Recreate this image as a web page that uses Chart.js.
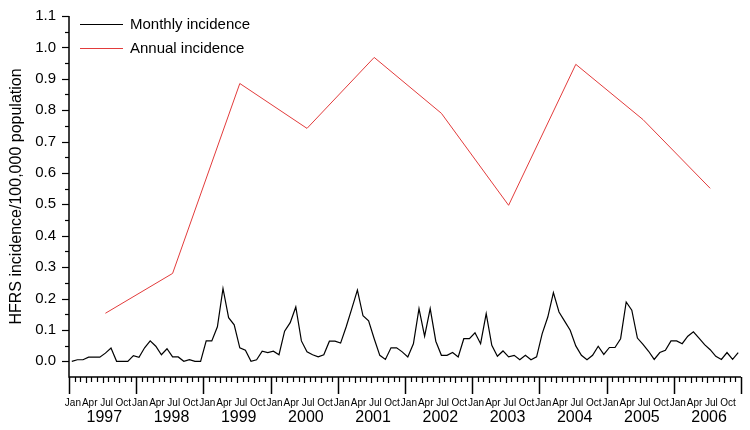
<!DOCTYPE html>
<html>
<head>
<meta charset="utf-8">
<script src="https://cdn.jsdelivr.net/npm/chart.js@4/dist/chart.umd.min.js"></script>
<style>
  html, body { margin: 0; padding: 0; background: #fff; }
  #wrap { width: 750px; height: 430px; position: relative; }
</style>
</head>
<body>
<div id="wrap"><canvas id="c" width="750" height="430"></canvas></div>
<script>
// ---- data ----
const years = ['1997','1998','1999','2000','2001','2002','2003','2004','2005','2006'];
const monthTickLabels = ['Jan','Apr','Jul','Oct'];
const yTickLabels = ['0.0','0.1','0.2','0.3','0.4','0.5','0.6','0.7','0.8','0.9','1.0','1.1'];
const monthly1997 = [0.0, 0.005, 0.005, 0.013, 0.013, 0.013, 0.026, 0.042, 0.0, 0.0, 0.0, 0.018];
const monthly1998 = [0.013, 0.043, 0.065, 0.048, 0.021, 0.040, 0.014, 0.014, 0.0, 0.005, 0.0, 0.0];
const monthly1999 = [0.065, 0.065, 0.110, 0.232, 0.139, 0.116, 0.043, 0.035, 0.0, 0.005, 0.032, 0.028];
const monthly2000 = [0.032, 0.021, 0.096, 0.123, 0.173, 0.065, 0.030, 0.021, 0.014, 0.021, 0.064, 0.064];
const monthly2001 = [0.058, 0.110, 0.168, 0.227, 0.145, 0.129, 0.072, 0.019, 0.006, 0.043, 0.043, 0.030];
const monthly2002 = [0.014, 0.056, 0.168, 0.080, 0.168, 0.064, 0.019, 0.019, 0.028, 0.014, 0.072, 0.072];
const monthly2003 = [0.091, 0.056, 0.152, 0.051, 0.016, 0.033, 0.014, 0.019, 0.005, 0.019, 0.005, 0.014];
const monthly2004 = [0.088, 0.141, 0.219, 0.157, 0.128, 0.099, 0.049, 0.019, 0.005, 0.019, 0.048, 0.022];
const monthly2005 = [0.044, 0.044, 0.072, 0.189, 0.163, 0.074, 0.054, 0.032, 0.006, 0.028, 0.035, 0.065];
const monthly2006 = [0.065, 0.056, 0.080, 0.094, 0.074, 0.053, 0.037, 0.016, 0.006, 0.028, 0.006, 0.028];
const annual = [0.153, 0.280, 0.885, 0.742, 0.968, 0.790, 0.497, 0.946, 0.770, 0.551];

const monthlyAll = [].concat(monthly1997, monthly1998, monthly1999, monthly2000, monthly2001,
                             monthly2002, monthly2003, monthly2004, monthly2005, monthly2006);
const monthlyPts = monthlyAll.map((v, i) => ({ x: i + 0.5, y: v }));
const annualPts = annual.map((v, i) => ({ x: i * 12 + 6.5, y: v }));

const FONT = '"Liberation Sans", Arial, sans-serif';

const axesPlugin = {
  id: 'customAxes',
  afterDraw(chart) {
    const ctx = chart.ctx;
    const xs = chart.scales.x, ys = chart.scales.y;
    const a = chart.chartArea;
    ctx.save();
    ctx.strokeStyle = '#000';
    ctx.fillStyle = '#000';
    // axis lines
    ctx.lineWidth = 1.5;
    ctx.beginPath();
    ctx.moveTo(a.left, a.top);
    ctx.lineTo(a.left, a.bottom);
    ctx.lineTo(a.right, a.bottom);
    ctx.stroke();
    // y ticks
    ctx.lineWidth = 1.2;
    for (let k = 0; k <= 22; k++) {
      const v = k * 0.05;
      const py = Math.round(ys.getPixelForValue(v)) + 0.5;
      const len = (k % 2 === 0) ? 7 : 4;
      ctx.beginPath();
      ctx.moveTo(a.left - len, py);
      ctx.lineTo(a.left, py);
      ctx.stroke();
    }
    ctx.font = '15px ' + FONT;
    ctx.textAlign = 'right';
    ctx.textBaseline = 'middle';
    yTickLabels.forEach((t, i) => {
      ctx.fillText(t, a.left - 13, ys.getPixelForValue(i * 0.1));
    });
    // x ticks
    for (let m = 0; m <= years.length * 12; m++) {
      const px = Math.round(xs.getPixelForValue(m)) + 0.5;
      let len = 5;
      if (m % 12 === 0) { len = 17; ctx.lineWidth = 1.5; }
      else if (m % 3 === 0) { len = 6; ctx.lineWidth = 1.2; }
      else { ctx.lineWidth = 1.2; }
      ctx.beginPath();
      ctx.moveTo(px, a.bottom);
      ctx.lineTo(px, a.bottom + len);
      ctx.stroke();
    }
    // month labels
    ctx.font = '10px ' + FONT;
    ctx.textAlign = 'center';
    ctx.textBaseline = 'middle';
    years.forEach((y, yi) => {
      monthTickLabels.forEach((lab, qi) => {
        ctx.fillText(lab, xs.getPixelForValue(yi * 12 + qi * 3 + 0.7), a.bottom + 26);
      });
    });
    // year labels
    ctx.font = '16px ' + FONT;
    years.forEach((y, yi) => {
      ctx.fillText(y, xs.getPixelForValue(yi * 12 + 6.3), a.bottom + 41);
    });
    // y title
    ctx.save();
    ctx.translate(17, (a.top + a.bottom) / 2);
    ctx.rotate(-Math.PI / 2);
    ctx.font = '16px ' + FONT;
    ctx.textAlign = 'center';
    ctx.textBaseline = 'middle';
    ctx.fillText('HFRS incidence/100,000 population', 0, 0);
    ctx.restore();
    // legend
    const leg = [
      { label: 'Monthly incidence', color: '#000000', y: 24 },
      { label: 'Annual incidence', color: '#e23b3b', y: 48 }
    ];
    ctx.font = '15px ' + FONT;
    ctx.textAlign = 'left';
    ctx.textBaseline = 'middle';
    leg.forEach(l => {
      ctx.strokeStyle = l.color;
      ctx.lineWidth = 1;
      ctx.beginPath();
      ctx.moveTo(80, l.y + 0.5);
      ctx.lineTo(123, l.y + 0.5);
      ctx.stroke();
      ctx.fillStyle = '#000';
      ctx.fillText(l.label, 130, l.y + 1);
    });
    ctx.restore();
  }
};

new Chart(document.getElementById('c'), {
  type: 'line',
  data: {
    datasets: [
      { label: 'Monthly incidence', data: monthlyPts, borderColor: '#000000', borderWidth: 1.2,
        pointRadius: 0, tension: 0, fill: false },
      { label: 'Annual incidence', data: annualPts, borderColor: '#e23b3b', borderWidth: 1,
        pointRadius: 0, tension: 0, fill: false }
    ]
  },
  options: {
    responsive: false,
    animation: false,
    layout: { padding: { left: 69, right: 9, top: 16, bottom: 53 } },
    plugins: { legend: { display: false }, tooltip: { enabled: false } },
    scales: {
      x: { type: 'linear', min: 0, max: 120, display: false },
      y: { type: 'linear', min: -0.05, max: 1.1, display: false }
    }
  },
  plugins: [axesPlugin]
});
</script>
</body>
</html>
